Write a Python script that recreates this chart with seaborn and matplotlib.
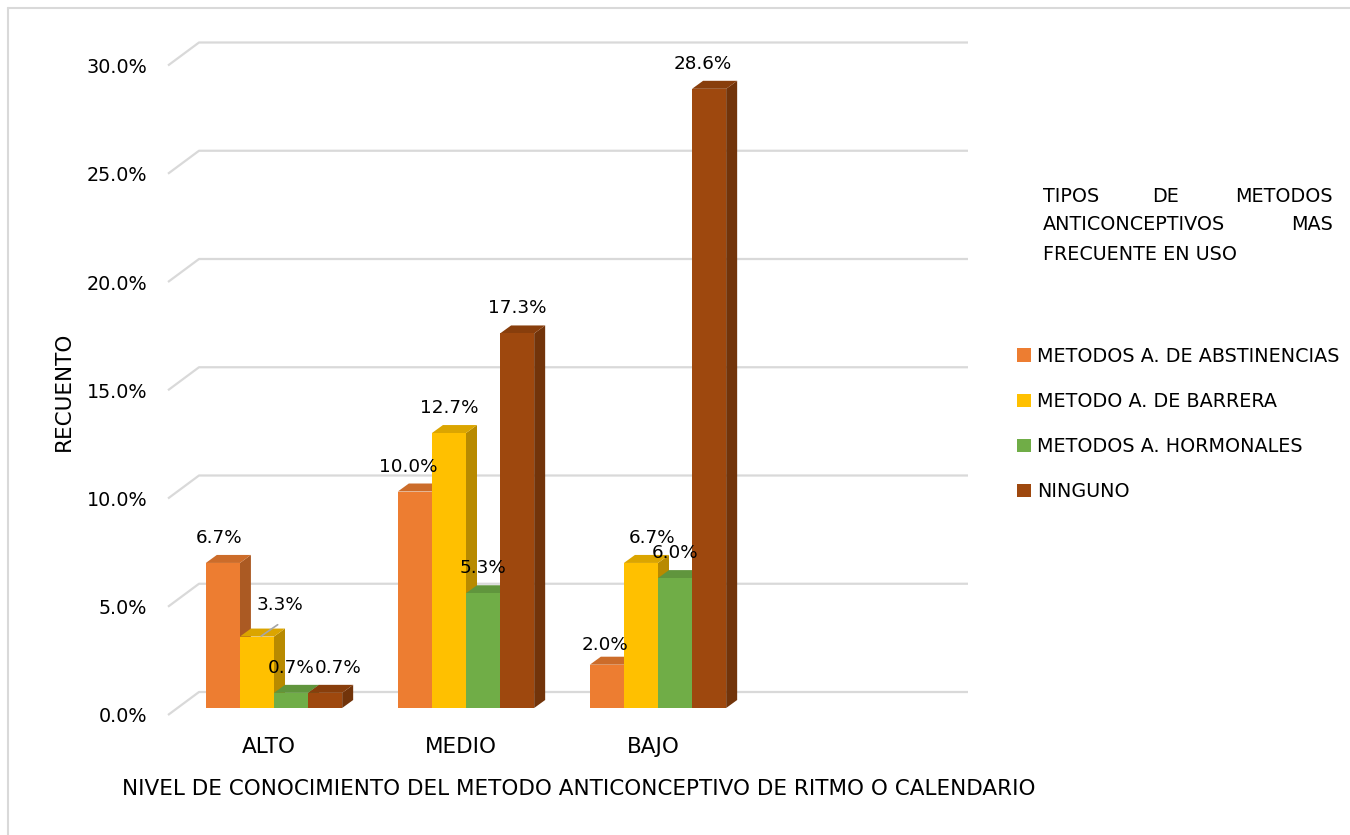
import numpy as np
import pandas as pd
import matplotlib
matplotlib.use("Agg")
import matplotlib.pyplot as plt
import matplotlib.colors as mcolors
from matplotlib.patches import Polygon
from matplotlib.lines import Line2D
from matplotlib.transforms import ScaledTranslation
import seaborn as sns

# Datos del grafico
niveles = ["ALTO", "MEDIO", "BAJO"]
tipos = ["METODOS A. DE ABSTINENCIAS", "METODO A. DE BARRERA",
         "METODOS A. HORMONALES", "NINGUNO"]
abstinencia = [6.7, 10.0, 2.0]
barrera = [3.3, 12.7, 6.7]
hormonales = [0.7, 5.3, 6.0]
ninguno = [0.7, 17.3, 28.6]
colores = ["#ED7D31", "#FFC000", "#70AD47", "#9E480E"]
ticks_y = [0, 5, 10, 15, 20, 25, 30]

df = pd.DataFrame({
    "nivel": niveles * 4,
    "tipo": np.repeat(tipos, 3),
    "pct": abstinencia + barrera + hormonales + ninguno,
})

sns.set_theme(style="white")
plt.rcParams["font.family"] = ["DejaVu Sans"]
plt.rcParams["text.color"] = "black"
FS = 13.8
FS_V = 13.2
FS_T = 15.5

W, H = 1350, 835
fig = plt.figure(figsize=(W / 100, H / 100), dpi=100)

# escala: 192 px por categoria, 21.65 px por 1 %
px_x, px_y = 192.0, 21.65
left_px, right_px, zero_px = 168, 968, 708
ymax = 31
ax = fig.add_axes([left_px / W, (H - zero_px) / H,
                   (right_px - left_px) / W, ymax * px_y / H])

sns.barplot(data=df, x="nivel", y="pct", hue="tipo", palette=colores,
            width=0.71, saturation=1, ax=ax, legend=True, zorder=3,
            edgecolor="none")

x0 = (left_px - 274) / px_x
x1 = x0 + (right_px - left_px) / px_x
ax.set_xlim(x0, x1)
ax.set_ylim(0, ymax)

# pseudo 3D: caras laterales y superiores
ddx, ddy = 11 / px_x, 8 / px_y
for cont, col in zip(ax.containers, colores):
    rgb = np.array(mcolors.to_rgb(col))
    for bar in cont:
        x, w, h = bar.get_x(), bar.get_width(), bar.get_height()
        side = [(x + w, 0), (x + w + ddx, ddy), (x + w + ddx, h + ddy), (x + w, h)]
        top = [(x, h), (x + ddx, h + ddy), (x + w + ddx, h + ddy), (x + w, h)]
        ax.add_patch(Polygon(side, closed=True, fc=rgb * 0.72, ec="none", zorder=2))
        ax.add_patch(Polygon(top, closed=True, fc=rgb * 0.86, ec="none", zorder=2.5))

# lineas de cuadricula en perspectiva
gdx, gdown, gup = 31 / px_x, 7 / px_y, 16 / px_y
for v in ticks_y:
    ax.plot([x0, x0 + gdx, x1], [v - gdown, v + gup, v + gup],
            color="#D9D9D9", lw=1.6, zorder=0, clip_on=False, solid_capstyle="butt")

for s in ax.spines.values():
    s.set_visible(False)
ax.set_yticks(ticks_y)
ax.set_yticklabels([f"{v:.1f}%" for v in ticks_y], fontsize=FS, color="black")
ax.tick_params(axis="y", length=0, pad=15)
for lbl in ax.get_yticklabels():
    lbl.set_transform(lbl.get_transform() + ScaledTranslation(0, -7 / 100, fig.dpi_scale_trans))
ax.tick_params(axis="x", length=0, pad=21, labelsize=FS_T, labelcolor="black")
for lbl in ax.get_xticklabels():
    lbl.set_transform(lbl.get_transform() + ScaledTranslation(-5 / 100, 0, fig.dpi_scale_trans))
ax.set_xlabel("")
ax.set_ylabel("")

# etiquetas de valores
ajustes = {(1, 0): (23, 7), (3, 0): (13, 0), (1, 2): (11, 0), (0, 1): (-7, 0),
           (3, 2): (-6, 0), (0, 2): (-2, -5), (0, 0): (-4, 0)}
for i, cont in enumerate(ax.containers):
    for j, bar in enumerate(cont):
        h = bar.get_height()
        cx = bar.get_x() + bar.get_width() / 2
        ox, oy = ajustes.get((i, j), (0, 0))
        ax.annotate(f"{h:.1f}%", (cx, h), xytext=(ox * 0.72, (25 + oy) * 0.72),
                    textcoords="offset points", ha="center", va="center",
                    fontsize=FS_V, color="black", zorder=5)
        if (i, j) == (1, 0):
            ax.annotate("", (cx + 2 / px_x, h - 0.05), xytext=(cx + 23 / px_x, h + 0.62),
                        arrowprops=dict(arrowstyle="-", color="#A6A6A6", lw=1.2), zorder=5)

# ejes: titulos
fig.text(64 / W, 1 - 391 / H, "RECUENTO", rotation=90, ha="center", va="center",
         fontsize=FS_T, color="black")
fig.text(579 / W, 1 - 789 / H,
         "NIVEL DE CONOCIMIENTO DEL METODO ANTICONCEPTIVO DE RITMO O CALENDARIO",
         ha="center", va="center", fontsize=FS_T, color="black")

# leyenda
handles, labels = ax.get_legend_handles_labels()
ax.get_legend().remove()
fig.legend(handles, labels, loc="upper left", bbox_to_anchor=(1017 / W, 1 - 347 / H),
           frameon=False, fontsize=FS, handlelength=0.72, handleheight=0.72,
           handletextpad=0.32, labelspacing=1.36, borderpad=0, borderaxespad=0,
           labelcolor="black")
tit_l = 1043 / W
fig.text(tit_l, 1 - 196 / H, "TIPOS", ha="left", va="center", fontsize=FS)
fig.text(1166 / W, 1 - 196 / H, "DE", ha="center", va="center", fontsize=FS)
fig.text(1333 / W, 1 - 196 / H, "METODOS", ha="right", va="center", fontsize=FS)
fig.text(tit_l, 1 - 225 / H, "ANTICONCEPTIVOS", ha="left", va="center", fontsize=FS)
fig.text(1333 / W, 1 - 225 / H, "MAS", ha="right", va="center", fontsize=FS)
fig.text(tit_l, 1 - 254 / H, "FRECUENTE EN USO", ha="left", va="center", fontsize=FS)

# borde del grafico
fig.add_artist(Line2D([8 / W, 8 / W], [0, 1 - 8 / H], color="#D9D9D9", lw=1.5))
fig.add_artist(Line2D([8 / W, 1], [1 - 8 / H, 1 - 8 / H], color="#D9D9D9", lw=1.5))

fig.savefig("out.png", dpi=100)
